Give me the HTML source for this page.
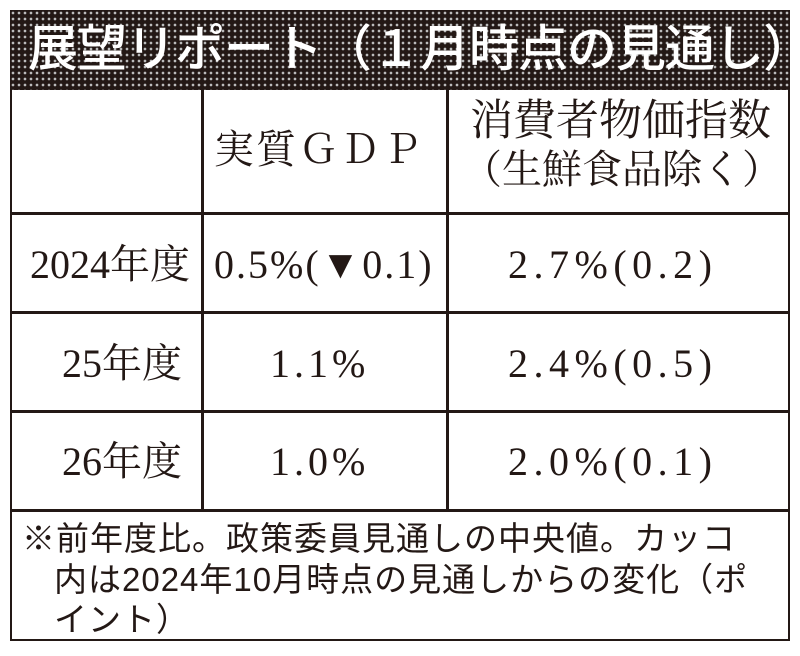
<!DOCTYPE html>
<html><head><meta charset="utf-8"><style>
body{margin:0;width:800px;height:656px;background:#fff;position:relative;overflow:hidden}
.a{position:absolute;white-space:nowrap}
.s{font-family:"Liberation Serif","Noto Serif CJK SC",serif;color:#231815;font-size:40px;line-height:40px}
.g{font-family:"Liberation Sans","Noto Sans CJK JP",sans-serif;color:#231815;font-size:33px;line-height:40px}
.hl{position:absolute;height:3px;background:#231815}
.vl{position:absolute;width:3px;background:#231815}
</style></head><body>
<div class="a" style="left:10px;top:10px;width:780px;height:80px;background-color:#231815;background-image:radial-gradient(circle,#bbb 1.1px,transparent 1.6px);background-size:6px 6px"></div>
<div class="a" style="left:28px;top:16px;font-family:'Liberation Sans','Noto Sans CJK JP',sans-serif;font-weight:500;font-size:50px;line-height:66px;color:#fff;letter-spacing:-1px">展望リポート（１月時点の見通し）</div>
<div class="a" style="left:10px;top:88px;width:776px;height:551px;border:2px solid #231815;border-top:none"></div>
<div class="vl" style="left:201px;top:90px;height:422px"></div>
<div class="vl" style="left:446px;top:90px;height:422px"></div>
<div class="hl" style="left:10px;top:212px;width:780px"></div>
<div class="hl" style="left:10px;top:311px;width:780px"></div>
<div class="hl" style="left:10px;top:410px;width:780px"></div>
<div class="hl" style="left:10px;top:509px;width:780px"></div>
<div class="a s" style="left:214px;top:130px;letter-spacing:2px">実質ＧＤＰ</div>
<div class="a s" style="left:470px;top:102px;font-size:43px">消費者物価指数</div>
<div class="a s" style="left:462px;top:150px">（生鮮食品除く）</div>
<div class="a s" style="left:30px;top:245px">2024年度</div>
<div class="a s" style="left:62px;top:344px">25年度</div>
<div class="a s" style="left:62px;top:442px">26年度</div>
<div class="a s" style="left:214px;top:245px;letter-spacing:2px">0.5%(▼0.1)</div>
<div class="a s" style="left:270px;top:344px;letter-spacing:4px">1.1%</div>
<div class="a s" style="left:270px;top:442px;letter-spacing:4px">1.0%</div>
<div class="a s" style="left:508px;top:245px;letter-spacing:5.5px">2.7%(0.2)</div>
<div class="a s" style="left:508px;top:344px;letter-spacing:5.5px">2.4%(0.5)</div>
<div class="a s" style="left:508px;top:442px;letter-spacing:5.5px">2.0%(0.1)</div>
<div class="a g" style="left:22px;top:519px;letter-spacing:1px">※前年度比。政策委員見通しの中央値。カッコ</div>
<div class="a g" style="left:54px;top:560px;letter-spacing:1px">内は2024年10月時点の見通しからの変化（ポ</div>
<div class="a g" style="left:54px;top:600px;letter-spacing:1px">イント）</div>
</body></html>
